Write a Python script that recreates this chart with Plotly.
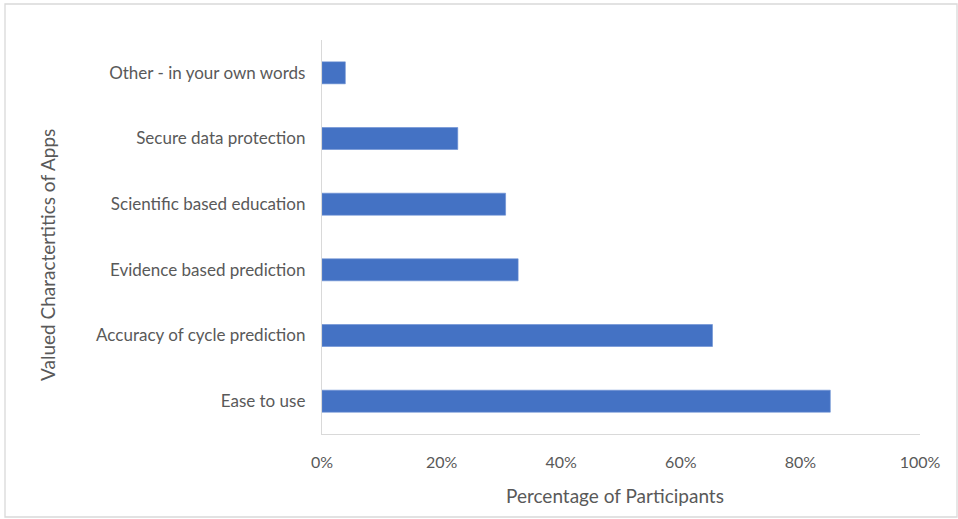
import plotly.graph_objects as go

categories = [
    "Ease to use",
    "Accuracy of cycle prediction",
    "Evidence based prediction",
    "Scientific based education",
    "Secure data protection",
    "Other - in your own words",
]
percentages = [0.85, 0.653, 0.328, 0.307, 0.227, 0.039]
x_ticks = [0, 0.2, 0.4, 0.6, 0.8, 1.0]
x_tick_labels = ["0%", "20%", "40%", "60%", "80%", "100%"]

FONT = "Lato, 'Open Sans', sans-serif"
TEXT = "#595959"

fig = go.Figure(
    go.Bar(
        y=categories,
        x=percentages,
        orientation="h",
        marker=dict(color="#4472C4", line=dict(color="#6A8FD4", width=0.6)),
        width=0.335,
    )
)

W, H = 958, 519
L, R, T, B = 322, 38, 40, 85
pw, ph = W - L - R, H - T - B


def px_x(p):
    return (p - L) / pw


def px_y(p):
    return (H - B - p) / ph


fig.update_layout(
    width=W,
    height=H,
    margin=dict(l=L, r=R, t=T, b=B),
    paper_bgcolor="white",
    plot_bgcolor="white",
    showlegend=False,
    font=dict(family=FONT, color=TEXT, size=16),
    xaxis=dict(
        range=[0, 1.0],
        tickvals=x_ticks,
        ticktext=x_tick_labels,
        showgrid=False,
        zeroline=False,
        showline=True,
        linecolor="#D9D9D9",
        linewidth=1.3,
        ticks="",
        ticklabelstandoff=14,
        tickfont=dict(size=16, color=TEXT),
        fixedrange=True,
    ),
    yaxis=dict(
        categoryorder="array",
        categoryarray=categories,
        showgrid=False,
        zeroline=False,
        showline=True,
        linecolor="#D9D9D9",
        linewidth=1.3,
        ticks="",
        ticklabelstandoff=12,
        tickfont=dict(size=17, color=TEXT),
        title=dict(text=""),
        fixedrange=True,
    ),
    annotations=[
        dict(
            text="Valued Charactertitics of Apps",
            textangle=-90,
            xref="paper",
            yref="paper",
            x=px_x(47),
            y=px_y(255),
            xanchor="center",
            yanchor="middle",
            showarrow=False,
            font=dict(size=19, color=TEXT, family=FONT),
        ),
        dict(
            text="Percentage of Participants",
            xref="paper",
            yref="paper",
            x=px_x(615),
            y=px_y(496),
            xanchor="center",
            yanchor="middle",
            showarrow=False,
            font=dict(size=19, color=TEXT, family=FONT),
        ),
    ],
    shapes=[
        dict(
            type="rect",
            xref="paper",
            yref="paper",
            x0=px_x(5),
            x1=px_x(957),
            y0=px_y(517),
            y1=px_y(4),
            line=dict(color="#D9D9D9", width=1.3),
            fillcolor="rgba(0,0,0,0)",
            layer="below",
        )
    ],
)

fig.write_html("out.html")
